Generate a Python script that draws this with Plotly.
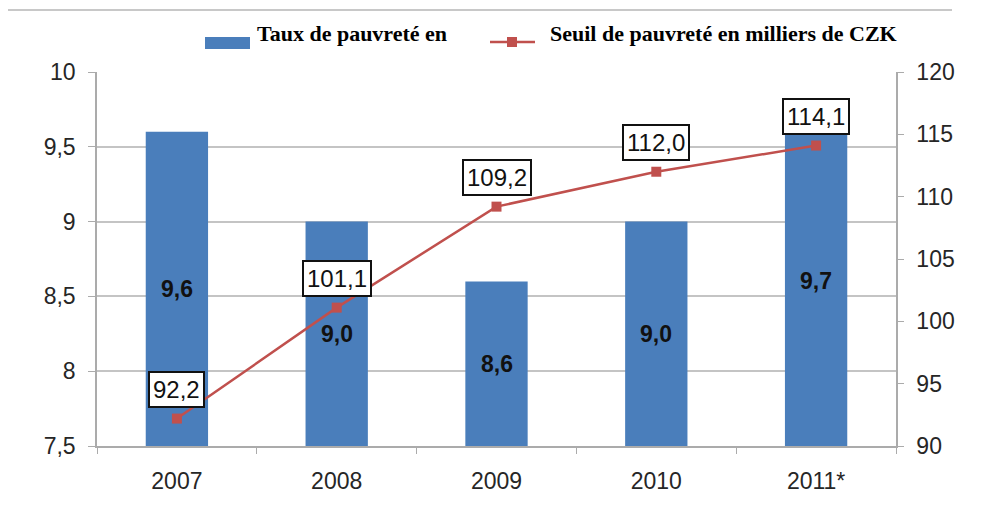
import plotly.graph_objects as go

years = ["2007", "2008", "2009", "2010", "2011*"]
poverty_rate = [9.6, 9.0, 8.6, 9.0, 9.7]
poverty_threshold = [92.2, 101.1, 109.2, 112.0, 114.1]
left_ticks = [7.5, 8, 8.5, 9, 9.5, 10]
right_ticks = [90, 95, 100, 105, 110, 115, 120]
grid_ticks = [8, 8.5, 9, 9.5]
legend_labels = ["Taux de pauvreté en", "Seuil de pauvreté en milliers de CZK"]
Y_MIN, Y_MAX = 7.5, 10

BLUE = "#4A7EBB"
RED = "#C0504D"
AXIS = "#ABABAB"
GRID = "#C4C4C4"
TXT = "#262626"

fig = go.Figure()
fig.add_trace(go.Bar(
    x=years, y=poverty_rate, yaxis="y", width=0.39,
    marker=dict(color=BLUE, line=dict(width=0)),
    showlegend=False,
))
fig.add_trace(go.Scatter(
    x=years, y=poverty_threshold, yaxis="y2", mode="lines+markers",
    line=dict(color=RED, width=2.5),
    marker=dict(symbol="square", size=10, color=RED),
    showlegend=False, cliponaxis=False,
))

# bar value labels, centred in the visible part of each bar
for i, v in enumerate(poverty_rate):
    fig.add_annotation(
        x=i, y=(v + Y_MIN) / 2, xref="x", yref="y", showarrow=False,
        text="<b>" + f"{v:.1f}".replace(".", ",") + "</b>",
        font=dict(family="Liberation Sans, Arial", size=23, color="#111"),
    )

# line value labels in boxes
for i, v in enumerate(poverty_threshold):
    fig.add_annotation(
        x=i, y=v, xref="x", yref="y2", yshift=29, showarrow=False,
        text=f"{v:.1f}".replace(".", ","),
        font=dict(family="Liberation Sans, Arial", size=24, color="#111"),
        bgcolor="white", bordercolor="#111", borderwidth=2, borderpad=3,
    )

# page has an 8px body margin: figure drawn at (8,8)
OFF = 8
W, H = 982 - OFF, 515 - OFF
L, R, T, B = 97 - OFF, 86, 72 - OFF, 69
pw, ph = W - L - R, H - T - B
def px(x): return (x - OFF - L) / pw
def py(y): return (H - B - (y - OFF)) / ph

shapes = [
    dict(type="line", xref="paper", yref="paper", x0=px(8), x1=px(952), y0=py(10), y1=py(10),
         line=dict(color="#C8C8C8", width=2)),
    dict(type="rect", xref="paper", yref="paper", x0=px(205), x1=px(250), y0=py(49), y1=py(37),
         fillcolor=BLUE, line=dict(width=0)),
    dict(type="line", xref="paper", yref="paper", x0=px(490), x1=px(535), y0=py(42), y1=py(42),
         line=dict(color=RED, width=2.5)),
    dict(type="rect", xref="paper", yref="paper", x0=px(507), x1=px(517), y0=py(47), y1=py(37),
         fillcolor=RED, line=dict(width=0)),
]
fig.add_annotation(xref="paper", yref="paper", x=px(255), y=py(33), xanchor="left", yanchor="middle",
                   text=f"<b>{legend_labels[0]}</b>", showarrow=False,
                   font=dict(family="Liberation Serif, Times New Roman", size=22, color="black"))
fig.add_annotation(xref="paper", yref="paper", x=px(548), y=py(33), xanchor="left", yanchor="middle",
                   text=f"<b>{legend_labels[1]}</b>", showarrow=False,
                   font=dict(family="Liberation Serif, Times New Roman", size=22, color="black"))

tickfont = dict(family="Liberation Sans, Arial", size=23, color=TXT)
fig.update_layout(
    width=W, height=H, margin=dict(l=L, r=R, t=T, b=B),
    paper_bgcolor="white", plot_bgcolor="rgba(0,0,0,0)",
    separators=", ", shapes=shapes, showlegend=False,
    xaxis=dict(type="category", categoryorder="array", categoryarray=years,
               range=[-0.5, len(years) - 0.5], autorange=False,
               showline=True, linecolor=AXIS, linewidth=1.5,
               ticks="outside", tickson="boundaries", ticklen=6, tickcolor=AXIS,
               tickfont=tickfont, ticklabelstandoff=14, showgrid=False, zeroline=False),
    yaxis=dict(range=[Y_MIN, Y_MAX], tickvals=left_ticks, showgrid=False, zeroline=False,
               showline=True, linecolor=AXIS, linewidth=1.5, ticks="outside", ticklen=7,
               tickcolor=AXIS, tickfont=tickfont, ticklabelstandoff=8,
               minor=dict(tickvals=grid_ticks, showgrid=True, gridcolor=GRID, gridwidth=1.5, ticks="")),
    yaxis2=dict(range=[90, 120], tickvals=right_ticks, overlaying="y", side="right",
                showgrid=False, zeroline=False, showline=True, linecolor=AXIS, linewidth=1.5,
                ticks="outside", ticklen=6, tickcolor=AXIS, tickfont=tickfont, ticklabelstandoff=8),
)

fig.write_html("out.html")
